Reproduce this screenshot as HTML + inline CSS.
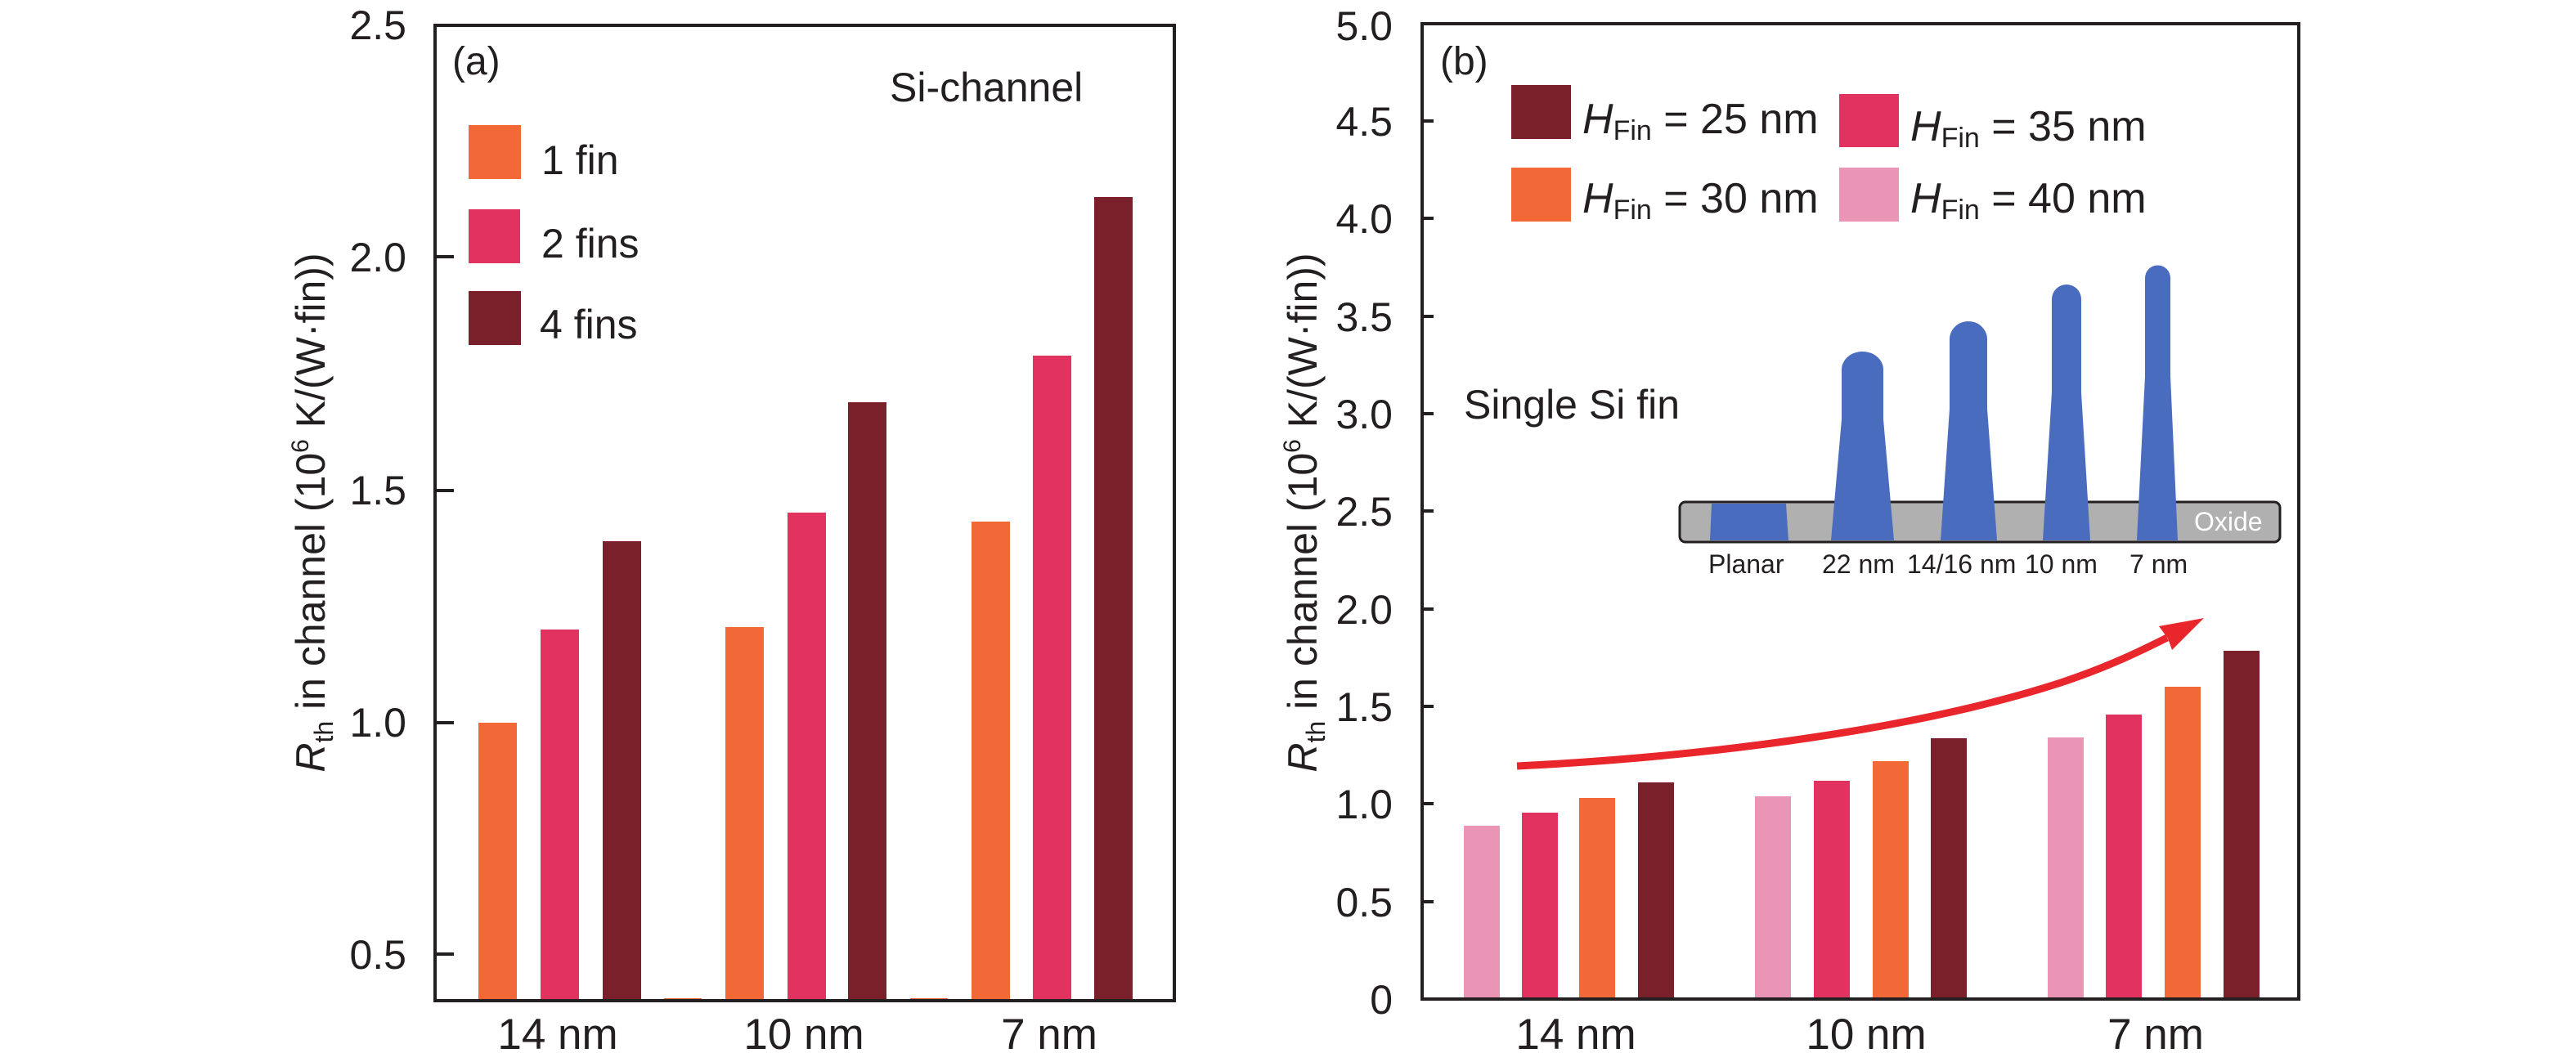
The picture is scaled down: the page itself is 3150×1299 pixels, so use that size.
<!DOCTYPE html>
<html><head><meta charset="utf-8"><style>
html,body{margin:0;padding:0;background:#fff}
svg{display:block}
text{font-family:"Liberation Sans Narrow","Liberation Sans",sans-serif;fill:#231f20}
</style></head><body>
<svg width="3150" height="1299" viewBox="0 0 3150 1299" xmlns="http://www.w3.org/2000/svg">
<g>
<rect x="585" y="884" width="47" height="340" fill="#F26836"/>
<rect x="661" y="770" width="47" height="454" fill="#E23260"/>
<rect x="737" y="662" width="47" height="562" fill="#79202A"/>
<rect x="812" y="1221" width="46" height="3" fill="#F26836"/>
<rect x="887" y="767" width="47" height="457" fill="#F26836"/>
<rect x="963" y="627" width="47" height="597" fill="#E23260"/>
<rect x="1037" y="492" width="47" height="732" fill="#79202A"/>
<rect x="1113" y="1221" width="46" height="3" fill="#F26836"/>
<rect x="1188" y="638" width="47" height="586" fill="#F26836"/>
<rect x="1263" y="435" width="47" height="789" fill="#E23260"/>
<rect x="1338" y="241" width="47" height="983" fill="#79202A"/>
<rect x="532" y="31" width="904" height="1193" fill="none" stroke="#231f20" stroke-width="4"/>
<g stroke="#231f20" stroke-width="4">
<line x1="532" y1="314" x2="555" y2="314"/><line x1="532" y1="600" x2="555" y2="600"/>
<line x1="532" y1="884" x2="555" y2="884"/><line x1="532" y1="1167" x2="555" y2="1167"/>
</g>
<g font-size="50" text-anchor="end">
<text x="497" y="48">2.5</text><text x="497" y="332">2.0</text>
<text x="497" y="617">1.5</text><text x="497" y="901">1.0</text><text x="497" y="1185">0.5</text>
</g>
<g font-size="53" text-anchor="middle">
<text x="682" y="1283">14 nm</text><text x="983" y="1283">10 nm</text><text x="1283" y="1283">7 nm</text>
</g>
<text x="553" y="91" font-size="48">(a)</text>
<text x="1088" y="124" font-size="50">Si-channel</text>
<rect x="573" y="153" width="64" height="66" fill="#F26836"/>
<rect x="573" y="256" width="63" height="66" fill="#E23260"/>
<rect x="573" y="356" width="64" height="66" fill="#79202A"/>
<text x="662" y="213" font-size="50">1 fin</text>
<text x="662" y="315" font-size="50">2 fins</text>
<text x="660" y="414" font-size="50">4 fins</text>
<text transform="translate(397,627) rotate(-90)" font-size="50" text-anchor="middle"><tspan font-style="italic">R</tspan><tspan font-size="32" dy="10">th</tspan><tspan dy="-10"> in channel (10</tspan><tspan font-size="30" dy="-20">6</tspan><tspan dy="20"> K/(W·fin))</tspan></text>
</g>
<g>
<rect x="1790" y="1010" width="44" height="212" fill="#EA95B5"/>
<rect x="1861" y="994" width="44" height="228" fill="#E23260"/>
<rect x="1931" y="976" width="44" height="246" fill="#F26836"/>
<rect x="2003" y="957" width="44" height="265" fill="#79202A"/>
<rect x="2146" y="974" width="44" height="248" fill="#EA95B5"/>
<rect x="2218" y="955" width="44" height="267" fill="#E23260"/>
<rect x="2290" y="931" width="44" height="291" fill="#F26836"/>
<rect x="2361" y="903" width="44" height="319" fill="#79202A"/>
<rect x="2504" y="902" width="44" height="320" fill="#EA95B5"/>
<rect x="2575" y="874" width="44" height="348" fill="#E23260"/>
<rect x="2647" y="840" width="44" height="382" fill="#F26836"/>
<rect x="2719" y="796" width="44" height="426" fill="#79202A"/>
<rect x="1739" y="29" width="1072" height="1193" fill="none" stroke="#231f20" stroke-width="4"/>
<g stroke="#231f20" stroke-width="4">
<line x1="1739" y1="1103" x2="1753" y2="1103"/><line x1="1739" y1="983" x2="1753" y2="983"/>
<line x1="1739" y1="864" x2="1753" y2="864"/><line x1="1739" y1="745" x2="1753" y2="745"/>
<line x1="1739" y1="625" x2="1753" y2="625"/><line x1="1739" y1="506" x2="1753" y2="506"/>
<line x1="1739" y1="387" x2="1753" y2="387"/><line x1="1739" y1="267" x2="1753" y2="267"/>
<line x1="1739" y1="148" x2="1753" y2="148"/>
</g>
<g font-size="50" text-anchor="end">
<text x="1703" y="49">5.0</text><text x="1703" y="166">4.5</text><text x="1703" y="285">4.0</text>
<text x="1703" y="405">3.5</text><text x="1703" y="524">3.0</text><text x="1703" y="643">2.5</text>
<text x="1703" y="763">2.0</text><text x="1703" y="882">1.5</text><text x="1703" y="1001">1.0</text>
<text x="1703" y="1121">0.5</text><text x="1703" y="1240">0</text>
</g>
<g font-size="53" text-anchor="middle">
<text x="1927" y="1283">14 nm</text><text x="2282" y="1283">10 nm</text><text x="2636" y="1283">7 nm</text>
</g>
<text transform="translate(1610,627) rotate(-90)" font-size="50" text-anchor="middle"><tspan font-style="italic">R</tspan><tspan font-size="32" dy="10">th</tspan><tspan dy="-10"> in channel (10</tspan><tspan font-size="30" dy="-20">6</tspan><tspan dy="20"> K/(W·fin))</tspan></text>
<text x="1761" y="91" font-size="48">(b)</text>
<rect x="1848" y="104" width="73" height="66" fill="#79202A"/>
<rect x="1848" y="205" width="73" height="66" fill="#F26836"/>
<rect x="2249" y="115" width="73" height="65" fill="#E23260"/>
<rect x="2249" y="205" width="73" height="66" fill="#EA95B5"/>
<g font-size="52">
<text x="1935" y="163"><tspan font-style="italic">H</tspan><tspan font-size="34" dy="8">Fin</tspan><tspan dy="-8"> = 25 nm</tspan></text>
<text x="1935" y="260"><tspan font-style="italic">H</tspan><tspan font-size="34" dy="8">Fin</tspan><tspan dy="-8"> = 30 nm</tspan></text>
<text x="2336" y="172"><tspan font-style="italic">H</tspan><tspan font-size="34" dy="8">Fin</tspan><tspan dy="-8"> = 35 nm</tspan></text>
<text x="2336" y="260"><tspan font-style="italic">H</tspan><tspan font-size="34" dy="8">Fin</tspan><tspan dy="-8"> = 40 nm</tspan></text>
</g>
<text x="1790" y="512" font-size="50">Single Si fin</text>
<rect x="2054" y="614" width="734" height="49" rx="7" fill="#B0B0B0" stroke="#231f20" stroke-width="3"/>
<path d="M2093 616 L2184 616 L2187 661 L2091 661 Z" fill="#4A6CBE"/>
<path d="M2239 661 L2252 513 L2252 452 A25.5 22 0 0 1 2303 452 L2303 513 L2316 661 Z" fill="#4A6CBE"/>
<path d="M2373 661 L2384 500 L2384 415 A23 22 0 0 1 2430 415 L2430 500 L2442 661 Z" fill="#4A6CBE"/>
<path d="M2498 661 L2509 480 L2509 366 A18 18 0 0 1 2545 366 L2545 480 L2556 661 Z" fill="#4A6CBE"/>
<path d="M2613 661 L2623 460 L2623 340 A15.5 15.5 0 0 1 2654 340 L2654 460 L2663 661 Z" fill="#4A6CBE"/>
<text x="2683" y="649" font-size="32" style="fill:#fff">Oxide</text>
<g font-size="32">
<text x="2089" y="701">Planar</text><text x="2228" y="701">22 nm</text>
<text x="2332" y="701">14/16 nm</text><text x="2476" y="701">10 nm</text><text x="2604" y="701">7 nm</text>
</g>
<path d="M1855 937 C2100 925 2350 890 2520 835 C2580 815 2620 795 2650 780" fill="none" stroke="#E8262B" stroke-width="9"/>
<path d="M2695 756 L2640 766 L2651 781 L2656 795 Z" fill="#E8262B"/>
</g>
</svg>
</body></html>
